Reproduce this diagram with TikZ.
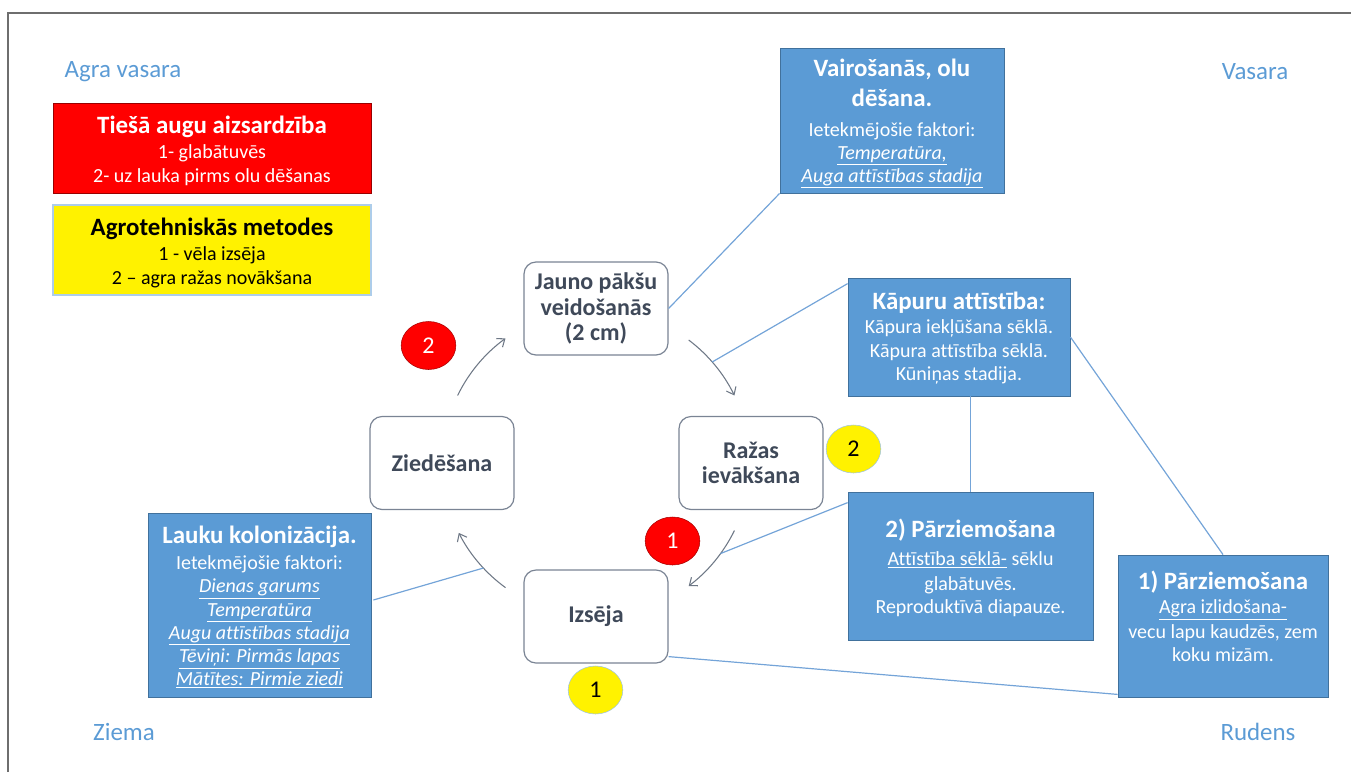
\documentclass[tikz,border=0pt]{standalone}
\usepackage{fontspec}
\setmainfont{Carlito}[Ligatures=CommonOff]
\usetikzlibrary{shapes.geometric,arrows.meta,calc}
\definecolor{seasonblue}{HTML}{5B9BD5}
\definecolor{boxblue}{HTML}{5B9BD5}
\definecolor{boxblueline}{HTML}{41719C}
\definecolor{linkblue}{HTML}{74A4D8}
\definecolor{roundline}{HTML}{7A8494}
\definecolor{roundtext}{HTML}{3F4959}
\definecolor{arrowgray}{HTML}{6E7886}
\definecolor{framegray}{HTML}{6E6E6E}
\newcommand{\myul}[1]{\underline{#1}}
\newcommand{\ttl}[1]{{\bfseries\fontsize{18.7}{22}\selectfont #1}}
\tikzset{
  bluebox/.style={draw=boxblueline, fill=boxblue, line width=0.6pt, inner sep=0pt},
  boxtext/.style={align=center, inner sep=0pt, text=white, font=\fontsize{15}{17.4}\selectfont},
  roundbox/.style={draw=roundline, fill=white, rounded corners=9pt, line width=0.9pt,
    minimum width=108pt, minimum height=69.75pt, inner sep=0pt, align=center,
    text=roundtext, font=\bfseries\fontsize{18}{19}\selectfont},
  seasonlabel/.style={text=seasonblue, font=\fontsize{18.7}{20}\selectfont, inner sep=0pt},
  badge/.style={ellipse, minimum width=41pt, minimum height=36pt, inner sep=0pt, font=\fontsize{18}{18}\selectfont},
  redbadge/.style={badge, fill=red, draw=red!65!black, text=white},
  yellowbadge/.style={badge, fill=yellow, draw=boxblue!60, text=black},
  cyclearrow/.style={draw=arrowgray, line width=0.8pt, -{Straight Barb[length=5pt,width=8pt]}},
  link/.style={draw=linkblue, line width=0.9pt},
}
\begin{document}
\begin{tikzpicture}[x=0.75pt,y=-0.75pt]
\useasboundingbox (0,0) rectangle (1351,772);
% frame
\draw[framegray, line width=1.1pt] (8,772) -- (8,13) -- (1351,13);

% season labels
\node[seasonlabel] (sAgra) at (123,72) {Agra vasara};
\node[seasonlabel] (sVasara) at (1255,72) {Vasara};
\node[seasonlabel] (sZiema) at (124,732) {Ziema};
\node[seasonlabel] (sRudens) at (1258,732) {Rudens};

% red and yellow legend boxes
\node[draw=red!60!black, fill=red, line width=0.6pt, minimum width=238.5pt, minimum height=67.5pt, inner sep=0pt] (redbox) at (212,148) {};
\node[boxtext, font=\fontsize{15}{18}\selectfont] (redtext) at (212,151) {\ttl{Tiešā augu aizsardzība}\\[0.5pt] 1- glabātuvēs\\ 2- uz lauka pirms olu dēšanas};
\node[draw=boxblue!50, fill=yellow, line width=0.8pt, minimum width=238.5pt, minimum height=67.5pt, inner sep=0pt] (yelbox) at (212,250) {};
\node[boxtext, text=black, font=\fontsize{15}{18}\selectfont] (yeltext) at (212,253) {\ttl{Agrotehniskās metodes}\\[0.5pt] 1 - vēla izsēja\\ 2 – agra ražas novākšana};

% blue boxes
\node[bluebox, minimum width=168pt, minimum height=108.75pt] (vair) at (892,120.5) {};
\node[boxtext] (vairt) at (892,124) {\ttl{Vairošanās, olu}\\[4.5pt] \ttl{dēšana.}\\[5pt] Ietekmējošie faktori:\\ \myul{\textit{Temperatūra,}}\\ \myul{\textit{Auga attīstības stadija}}};

\node[bluebox, minimum width=166.5pt, minimum height=88.5pt] (kap) at (959,337) {};
\node[boxtext] (kapt) at (959,338) {\ttl{Kāpuru attīstība:}\\[1pt] Kāpura iekļūšana sēklā.\\ Kāpura attīstība sēklā.\\ Kūniņas stadija.};

\node[bluebox, minimum width=183.75pt, minimum height=111pt] (p2) at (970.5,566) {};
\node[boxtext] (p2t) at (970.5,568) {\ttl{2) Pārziemošana}\\[3.5pt] \myul{Attīstība sēklā-} sēklu\\[1pt] glabātuvēs.\\ Reproduktīvā diapauze.};

\node[bluebox, minimum width=157.5pt, minimum height=106.5pt] (p1) at (1223,626) {};
\node[boxtext] (p1t) at (1223,616) {\ttl{1) Pārziemošana}\\[1pt] \myul{Agra izlidošana-}\\[1pt] vecu lapu kaudzēs, zem\\ koku mizām.};

\node[bluebox, minimum width=167.25pt, minimum height=138pt] (lauku) at (259.5,605) {};
\node[boxtext] (laukut) at (259.5,607) {\ttl{Lauku kolonizācija.}\\[2.5pt] Ietekmējošie faktori:\\ \myul{\textit{Dienas garums}}\\ \myul{\textit{Temperatūra}}\\ \myul{\textit{Augu attīstības stadija}}\\ \myul{\textit{Tēviņi: Pirmās lapas}}\\ \myul{\textit{Mātītes: Pirmie ziedi}}};

% cycle boxes
\node[roundbox] (jauno) at (596,308.5) {Jauno pākšu\\ veidošanās\\ (2 cm)};
\node[roundbox] (zied) at (442,463) {Ziedēšana};
\node[roundbox] (razas) at (751,463) {Ražas\\ ievākšana};
\node[roundbox] (izs) at (596,616.5) {Izsēja};

% badges
\node[redbadge] (r2) at (428.5,345.5) {2};
\node[yellowbadge] (y2) at (853.5,449) {2};
\node[redbadge] (r1) at (672.5,541) {1};
\node[yellowbadge] (y1) at (595.5,690) {1};

% cycle arrows
\coordinate (ctr) at (596,463);
\coordinate (a1s) at ($(ctr)+(-154:154)$);
\coordinate (a2s) at ($(ctr)+(-53:154)$);
\coordinate (a3s) at ($(ctr)+(26:154)$);
\coordinate (a4s) at ($(ctr)+(126:154)$);
\draw[cyclearrow] (a1s) arc[start angle=-154, end angle=-126, radius=154];
\draw[cyclearrow] (a2s) arc[start angle=-53, end angle=-26, radius=154];
\draw[cyclearrow] (a3s) arc[start angle=26, end angle=53, radius=154];
\draw[cyclearrow] (a4s) arc[start angle=126, end angle=153, radius=154];

% link lines
\coordinate (l2) at ($(ctr)+(-41:154)$);
\coordinate (l3) at ($(ctr)+(36:154)$);
\coordinate (l4) at ($(ctr)+(137:154)$);
\draw[link] (jauno.east) -- (vair.south west);
\draw[link] (l2) -- ($(kap.north west)+(0,6)$);
\draw[link] (kap.south -| p2.north) -- (p2.north);
\draw[link] (kap.east) -- (p1.north);
\draw[link] ($(p2.north west)+(0,11)$) -- (l3);
\draw[link] ($(izs.south east)+(0,-7)$) -- ($(p1.south west)+(0,-3)$);
\draw[link] ($(lauku.east)+(2,-5)$) -- (l4);
\end{tikzpicture}
\end{document}
